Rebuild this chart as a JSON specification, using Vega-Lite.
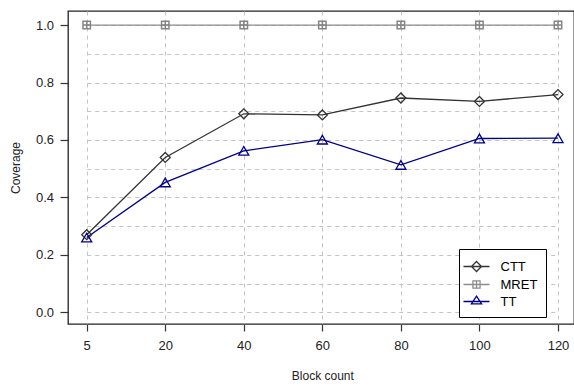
{
  "$schema": "https://vega.github.io/schema/vega-lite/v6.json",
  "autosize": {"type": "none"},
  "padding": {"left": 68, "top": 11, "right": 0, "bottom": 64},
  "width": 506,
  "height": 313,
  "background": "white",
  "config": {
    "font": "Liberation Sans",
    "view": {"stroke": "#222", "strokeWidth": 1.3},
    "axis": {"domain": false, "labelColor": "#222", "titleColor": "#222", "titleFontWeight": "normal", "titleFontSize": 12, "labelFontSize": 13, "tickColor": "#333", "tickWidth": 1.2, "gridColor": "#c4c4c4", "gridDash": [4, 4], "gridWidth": 1}
  },
  "data": {"values": [
    {"block": 5, "method": "CTT", "coverage": 0.27},
    {"block": 20, "method": "CTT", "coverage": 0.539},
    {"block": 40, "method": "CTT", "coverage": 0.691},
    {"block": 60, "method": "CTT", "coverage": 0.687},
    {"block": 80, "method": "CTT", "coverage": 0.746},
    {"block": 100, "method": "CTT", "coverage": 0.734},
    {"block": 120, "method": "CTT", "coverage": 0.758},
    {"block": 5, "method": "MRET", "coverage": 1.0},
    {"block": 20, "method": "MRET", "coverage": 1.0},
    {"block": 40, "method": "MRET", "coverage": 1.0},
    {"block": 60, "method": "MRET", "coverage": 1.0},
    {"block": 80, "method": "MRET", "coverage": 1.0},
    {"block": 100, "method": "MRET", "coverage": 1.0},
    {"block": 120, "method": "MRET", "coverage": 1.0},
    {"block": 5, "method": "TT", "coverage": 0.26},
    {"block": 20, "method": "TT", "coverage": 0.452},
    {"block": 40, "method": "TT", "coverage": 0.562},
    {"block": 60, "method": "TT", "coverage": 0.601},
    {"block": 80, "method": "TT", "coverage": 0.513},
    {"block": 100, "method": "TT", "coverage": 0.605},
    {"block": 120, "method": "TT", "coverage": 0.606}
  ]},
  "encoding": {
    "x": {
      "field": "block", "type": "ordinal",
      "scale": {"type": "point", "domain": [5, 20, 40, 60, 80, 100, 120], "range": [18.7, 490], "padding": 0},
      "axis": {"title": "Block count", "labelAngle": 0, "tickSize": 7, "labelPadding": 8, "titlePadding": 18, "grid": true}
    },
    "y": {
      "field": "coverage", "type": "quantitative",
      "scale": {"domain": [-0.041, 1.049], "nice": false, "zero": false},
      "axis": {
        "title": "Coverage",
        "values": [0, 0.1, 0.2, 0.3, 0.4, 0.5, 0.6, 0.7, 0.8, 0.9, 1.0],
        "labelExpr": "round(datum.value*10) % 2 == 0 ? format(datum.value, '.1f') : ''",
        "tickOpacity": {"condition": {"test": "round(datum.value*10) % 2 == 0", "value": 1}, "value": 0},
        "tickSize": 8, "labelPadding": 6.5, "titlePadding": 13, "grid": true
      }
    }
  },
  "layer": [
    {
      "mark": {"type": "line", "strokeWidth": 1.3},
      "encoding": {
        "color": {
          "field": "method", "type": "nominal",
          "scale": {"domain": ["CTT", "MRET", "TT"], "range": ["#333333", "#8c8c8c", "#00008b"]},
          "legend": {
            "orient": "none", "legendX": 391, "legendY": 238, "title": null,
            "strokeColor": "#000", "fillColor": "#fff", "padding": 8, "cornerRadius": 0,
            "labelFontSize": 13, "labelFont": "Liberation Sans", "labelColor": "#000",
            "symbolSize": 289, "labelOffset": 14.5, "rowPadding": 0, "symbolStrokeWidth": 1.3,
            "encode": {"symbols": {"update": {
              "shape": {"signal": "datum.value==='CTT' ? 'M-1.53,0H1.53M0,-0.59L0.59,0L0,0.59L-0.59,0Z' : datum.value==='MRET' ? 'M-1.53,0H1.53M-0.42,-0.42H0.42V0.42H-0.42ZM0,-0.42V0.42' : 'M-1.53,0H1.53M0,-0.62L0.6,0.28L-0.6,0.28Z'"},
              "fill": {"value": "transparent"},
              "stroke": {"signal": "datum.value==='CTT' ? '#333333' : datum.value==='MRET' ? '#8c8c8c' : '#00008b'"},
              "strokeWidth": {"value": 1.3},
              "size": {"value": 289}
            }}}
          }
        }
      }
    },
    {
      "transform": [{"filter": "datum.method === 'MRET'"}],
      "mark": {"type": "point", "filled": false, "strokeWidth": 1.5, "opacity": 1, "shape": "M-1,-1H1V1H-1ZM-1,0H1M0,-1V1", "size": 55, "color": "#858585"}
    },
    {
      "transform": [{"filter": "datum.method === 'CTT'"}],
      "mark": {"type": "point", "filled": false, "strokeWidth": 1.3, "opacity": 1, "shape": "diamond", "size": 100, "color": "#333333"}
    },
    {
      "transform": [{"filter": "datum.method === 'TT'"}],
      "mark": {"type": "point", "filled": false, "strokeWidth": 1.3, "opacity": 1, "shape": "triangle-up", "size": 100, "color": "#00008b"}
    }
  ]
}
